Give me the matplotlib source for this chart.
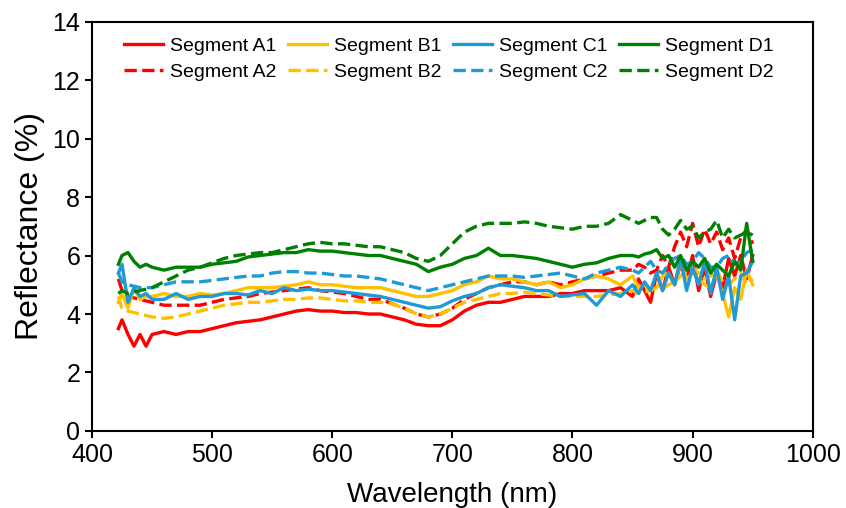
import matplotlib
matplotlib.use("Agg")
import matplotlib.pyplot as plt

plt.rcParams['font.family'] = ['Liberation Sans', 'DejaVu Sans']

# wavelength grid (nm)
wavelength = [422, 425, 430, 435, 440, 445, 450,
              460, 470, 480, 490, 500, 510, 520, 530, 540, 550,
              560, 570, 580, 590, 600, 610, 620, 630, 640, 650,
              660, 670, 680, 690, 700, 710, 720, 730, 740, 750,
              760, 770, 780, 790, 800, 810, 820, 830, 840, 850,
              855, 860, 865, 870, 875, 880, 885, 890, 895, 900,
              905, 910, 915, 920, 925, 930, 935, 940, 945, 950]

seg_a1 = [3.5, 3.8, 3.3, 2.9, 3.3, 2.9, 3.3,
          3.4, 3.3, 3.4, 3.4, 3.5, 3.6, 3.7, 3.75, 3.8, 3.9,
          4.0, 4.1, 4.15, 4.1, 4.1, 4.05, 4.05, 4.0, 4.0, 3.9,
          3.8, 3.65, 3.6, 3.6, 3.8, 4.1, 4.3, 4.4, 4.4, 4.5,
          4.6, 4.6, 4.6, 4.7, 4.7, 4.8, 4.8, 4.8, 4.9, 4.6,
          5.2, 4.8, 4.4, 5.4, 4.8, 5.6, 5.0, 5.7, 5.2, 6.0,
          4.8, 5.6, 4.6, 5.4, 4.9, 5.9, 5.3, 6.0, 5.2, 6.0]
seg_a2 = [5.2, 4.8, 4.6, 4.55, 4.5, 4.45, 4.4,
          4.3, 4.3, 4.3, 4.3, 4.4, 4.5, 4.55, 4.6, 4.7, 4.75,
          4.8, 4.85, 4.9, 4.8, 4.75, 4.7, 4.6, 4.5, 4.5, 4.35,
          4.2, 4.0, 3.9, 4.0, 4.2, 4.5, 4.7, 4.9, 5.0, 5.1,
          5.1, 5.0, 5.1, 5.0, 5.1, 5.2, 5.3, 5.4, 5.5, 5.5,
          5.7, 5.6, 5.4, 5.5, 6.0, 5.6, 6.3, 6.8, 6.3, 7.1,
          6.3, 6.9, 6.4, 6.8, 6.2, 6.6, 5.9, 6.6, 6.9, 6.4]
seg_b1 = [4.4, 4.7, 4.2, 4.9, 4.5, 4.6, 4.6,
          4.7, 4.6, 4.6, 4.7, 4.65, 4.7, 4.8, 4.9, 4.9, 4.9,
          4.95, 5.0, 5.1, 5.0, 5.0, 4.95, 4.9, 4.9, 4.9, 4.8,
          4.7, 4.6, 4.6, 4.7, 4.8, 5.0, 5.1, 5.3, 5.2, 5.2,
          5.1, 5.0, 5.1, 4.9, 5.0, 5.2, 5.3, 5.2, 5.0, 5.3,
          4.9, 5.0, 4.8, 4.9, 5.3, 5.4, 5.0, 5.8, 5.2, 5.4,
          5.2, 5.0, 4.9, 5.4, 4.7, 3.9, 4.9, 4.5, 5.5, 5.0]
seg_b2 = [4.6, 4.2, 4.1, 4.05, 4.0, 3.95, 3.9,
          3.85, 3.9, 4.0, 4.1, 4.2, 4.3, 4.35, 4.4, 4.4, 4.45,
          4.5, 4.5, 4.55, 4.55, 4.5, 4.45, 4.45, 4.4, 4.4, 4.35,
          4.2, 4.0, 3.9, 4.0, 4.2, 4.4, 4.5, 4.6, 4.7, 4.7,
          4.75, 4.7, 4.65, 4.6, 4.6, 4.6, 4.6, 4.65, 4.7, 4.8,
          4.7, 4.75, 4.8, 4.9, 4.85, 5.0, 5.1, 5.3, 5.5, 5.6,
          5.4, 5.2, 5.3, 5.5, 5.1, 5.0, 5.2, 5.4, 5.0, 5.2]
seg_c1 = [5.4, 5.7, 4.4, 4.9, 4.6, 4.7, 4.5,
          4.5, 4.7, 4.5, 4.6, 4.6, 4.7, 4.7, 4.65, 4.8, 4.7,
          4.9, 4.8, 4.85, 4.8, 4.8, 4.75, 4.7, 4.65, 4.6, 4.5,
          4.4, 4.3, 4.2, 4.25, 4.45, 4.6, 4.7, 4.9, 5.0, 4.95,
          4.9, 4.8, 4.8, 4.6, 4.65, 4.7, 4.3, 4.8, 4.6, 5.0,
          4.7, 5.1, 4.8, 5.4, 4.8, 5.4, 5.0, 5.9, 4.8, 5.6,
          5.0, 5.8, 4.7, 5.6, 4.5, 5.3, 3.8, 5.3, 5.4, 5.8]
seg_c2 = [5.4, 5.1, 5.0, 4.95, 4.9, 4.9, 4.9,
          5.0, 5.1, 5.1, 5.1, 5.15, 5.2, 5.25, 5.3, 5.3, 5.4,
          5.45, 5.45, 5.4, 5.4, 5.35, 5.3, 5.3, 5.25, 5.2, 5.1,
          5.0, 4.9, 4.8, 4.9, 5.0, 5.1, 5.2, 5.3, 5.3, 5.3,
          5.25, 5.3, 5.35, 5.4, 5.3, 5.2, 5.4, 5.5, 5.6, 5.5,
          5.4, 5.6, 5.8, 5.5, 5.4, 5.7, 5.9, 6.0, 5.7, 5.8,
          6.1, 5.9, 5.6, 5.6, 5.9, 6.0, 5.7, 5.8, 6.1, 6.2]
seg_d1 = [5.7, 6.0, 6.1, 5.8, 5.6, 5.7, 5.6,
          5.5, 5.6, 5.6, 5.6, 5.7, 5.75, 5.8, 5.95, 6.0, 6.05,
          6.1, 6.1, 6.2, 6.15, 6.15, 6.1, 6.05, 6.0, 6.0, 5.9,
          5.8, 5.7, 5.45, 5.6, 5.7, 5.9, 6.0, 6.25, 6.0, 6.0,
          5.95, 5.9, 5.8, 5.7, 5.6, 5.7, 5.75, 5.9, 6.0, 6.0,
          5.95, 6.05, 6.1, 6.2, 5.9, 6.0, 5.6, 6.0, 5.5, 5.8,
          5.6, 5.9, 5.4, 5.7, 5.5, 5.3, 5.8, 5.5, 7.1, 5.8]
seg_d2 = [4.7, 4.8, 4.7, 4.75, 4.8, 4.85, 4.9,
          5.1, 5.3, 5.5, 5.6, 5.75, 5.9, 6.0, 6.05, 6.1, 6.1,
          6.2, 6.3, 6.4, 6.45, 6.4, 6.4, 6.35, 6.3, 6.3, 6.2,
          6.1, 5.9, 5.8, 6.0, 6.4, 6.8, 7.0, 7.1, 7.1, 7.1,
          7.15, 7.1, 7.0, 6.95, 6.9, 7.0, 7.0, 7.1, 7.4, 7.2,
          7.1, 7.2, 7.3, 7.3, 6.9, 6.7, 6.9, 7.2, 6.9, 7.0,
          6.6, 6.8, 6.9, 7.2, 6.6, 6.9, 6.6, 6.7, 6.8, 6.7]

series = [("Segment A1", seg_a1, "#ff0000", "-"),
          ("Segment A2", seg_a2, "#ff0000", "--"),
          ("Segment B1", seg_b1, "#ffc000", "-"),
          ("Segment B2", seg_b2, "#ffc000", "--"),
          ("Segment C1", seg_c1, "#1f9ad6", "-"),
          ("Segment C2", seg_c2, "#1f9ad6", "--"),
          ("Segment D1", seg_d1, "#008000", "-"),
          ("Segment D2", seg_d2, "#008000", "--")]

fig = plt.figure(figsize=(8.46, 5.08), dpi=100)
ax = fig.add_axes([0.1087, 0.1516, 0.852, 0.806])

for name, vals, col, ls in series:
    ax.plot(wavelength, vals, color=col, linestyle=ls, linewidth=2.4, label=name)

ax.set_xlim(400, 1000)
ax.set_ylim(0, 14)
ax.set_xticks(range(400, 1001, 100))
ax.set_yticks(range(0, 15, 2))
ax.tick_params(labelsize=18, width=1.5, length=5)
for sp in ax.spines.values():
    sp.set_linewidth(1.5)
ax.set_xlabel("Wavelength (nm)", fontsize=20, labelpad=11)
ax.set_ylabel("Reflectance (%)", fontsize=23, labelpad=5)

ax.legend(loc="upper left", ncol=4, frameon=False, fontsize=14,
          handlelength=2.0, handletextpad=0.36, columnspacing=0.6,
          labelspacing=0.45, bbox_to_anchor=(0.02, 1.005))

fig.savefig("out.png", dpi=100)
